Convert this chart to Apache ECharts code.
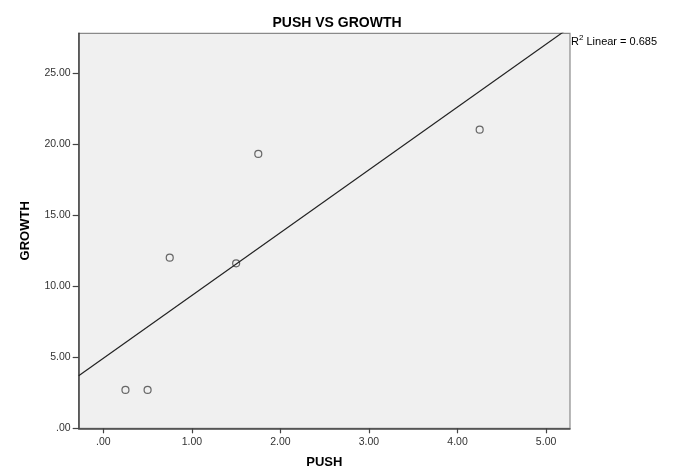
<!DOCTYPE html>
<html><head><meta charset="utf-8">
<script src="https://cdn.jsdelivr.net/npm/echarts@6/dist/echarts.min.js"></script>
<style>html,body{margin:0;padding:0;background:#fff}#c{width:676px;height:471px}</style>
</head><body><div id="c"></div>
<script>
const titleText = 'PUSH VS GROWTH';
const xName = 'PUSH';
const yName = 'GROWTH';
const pushValues = [0.25, 0.5, 0.75, 1.5, 1.75, 4.25];
const growthValues = [2.7, 2.7, 12.0, 11.6, 19.3, 21.0];
const xTicks = [0, 1, 2, 3, 4, 5];
const yTicks = [0, 5, 10, 15, 20, 25];
const xMin = -0.278, xMax = 5.27, yMin = 0, yMax = 27.78;
const r2Label = '0.685';

const n = pushValues.length;
const mx = pushValues.reduce((a, b) => a + b, 0) / n;
const my = growthValues.reduce((a, b) => a + b, 0) / n;
let sxy = 0, sxx = 0;
for (let i = 0; i < n; i++) { sxy += (pushValues[i] - mx) * (growthValues[i] - my); sxx += (pushValues[i] - mx) ** 2; }
const slope = sxy / sxx, intercept = my - slope * mx;
const fitLine = [[xMin, intercept + slope * xMin], [xMax, intercept + slope * xMax]];
const pts = pushValues.map((x, i) => [x, growthValues[i]]);
const fmt = v => v === 0 ? '.00' : v.toFixed(2);
const font = '"Liberation Sans", Arial, sans-serif';

const chart = echarts.init(document.getElementById('c'), null, {renderer: 'canvas'});
chart.setOption({
  animation: false,
  backgroundColor: '#ffffff',
  title: {text: titleText, left: 332, top: 11, textAlign: 'center',
    textStyle: {fontFamily: font, fontSize: 14, fontWeight: 'bold', color: '#000'}},
  grid: {left: 78.7, right: 106, top: 33.3, bottom: 42.7, show: true, containLabel: false,
    outerBoundsMode: 'none',
    backgroundColor: '#f0f0f0', borderColor: '#8a8a8a', borderWidth: 1.2},
  xAxis: {type: 'value', min: xMin, max: xMax, name: xName, nameLocation: 'middle', nameGap: 28,
    nameTextStyle: {fontFamily: font, fontSize: 13, fontWeight: 'bold', color: '#000'},
    axisLine: {show: true, onZero: false, lineStyle: {color: '#444', width: 1.5}},
    axisTick: {show: true, customValues: xTicks, length: 5, lineStyle: {color: '#444', width: 1.2}},
    axisLabel: {customValues: xTicks, formatter: fmt, margin: 8, fontFamily: font, fontSize: 10.5, color: '#333'},
    splitLine: {show: false}},
  yAxis: {type: 'value', min: yMin, max: yMax, name: yName, nameLocation: 'middle', nameGap: 47,
    nameTextStyle: {fontFamily: font, fontSize: 13, fontWeight: 'bold', color: '#000'},
    axisLine: {show: true, onZero: false, lineStyle: {color: '#444', width: 1.5}},
    axisTick: {show: true, customValues: yTicks, length: 6, lineStyle: {color: '#444', width: 1.2}},
    axisLabel: {customValues: yTicks, formatter: fmt, margin: 8, fontFamily: font, fontSize: 10.5, color: '#333'},
    splitLine: {show: false}},
  series: [
    {type: 'line', data: fitLine, clip: true, symbol: 'none', silent: true,
      lineStyle: {color: '#222', width: 1.2}},
    {type: 'scatter', data: pts, symbol: 'circle', symbolSize: 7,
      itemStyle: {color: 'rgba(0,0,0,0)', borderColor: '#444', borderWidth: 1.2}}
  ],
  graphic: [{type: 'text', left: 571, top: 34,
    style: {text: '{n|R}{s|2}{n| Linear = ' + r2Label + '}',
      rich: {n: {fontFamily: font, fontSize: 11, fill: '#000', verticalAlign: 'bottom'},
             s: {fontFamily: font, fontSize: 8, fill: '#000', verticalAlign: 'top', padding: [0, 0, 5, 0]}}}}]
});
</script></body></html>
